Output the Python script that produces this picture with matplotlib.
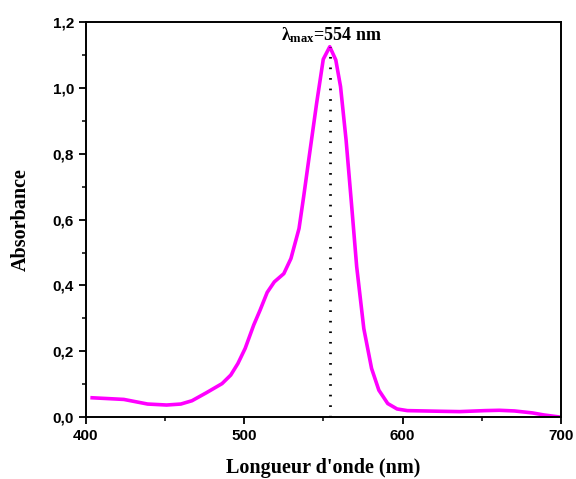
import matplotlib
matplotlib.use("Agg")
import matplotlib.pyplot as plt
from matplotlib.ticker import MultipleLocator, FuncFormatter
import numpy as np

plt.rcParams["mathtext.fontset"] = "custom"
plt.rcParams["mathtext.rm"] = "Liberation Serif:bold"
plt.rcParams["mathtext.it"] = "Liberation Serif:bold"
plt.rcParams["mathtext.bf"] = "Liberation Serif:bold"

wavelength = [404, 424, 439, 451, 460, 467, 476, 486, 491.5, 496, 500.6, 506, 510,
              514.5, 519, 525, 529.5, 534.6, 537.5, 541, 545.7, 549.9, 554, 557.8,
              560.8, 564.3, 567.7, 571, 575.5, 580.4, 585, 590.6, 596.5, 603, 624,
              636, 652, 661, 670.6, 682, 689, 700]
absorbance = [0.059, 0.054, 0.040, 0.037, 0.040, 0.050, 0.074, 0.102, 0.128, 0.163,
              0.209, 0.280, 0.325, 0.379, 0.411, 0.436, 0.482, 0.573, 0.669, 0.791,
              0.953, 1.087, 1.125, 1.085, 1.004, 0.842, 0.649, 0.457, 0.269, 0.148,
              0.082, 0.0415, 0.025, 0.020, 0.018, 0.017, 0.020, 0.021, 0.019, 0.013,
              0.007, 0.0]
lambda_max = 554
peak_abs = 1.125

fig = plt.figure(figsize=(5.76, 4.79), dpi=100)
ax = fig.add_axes([0.149, 0.129, 0.825, 0.825])
ax.plot(wavelength, absorbance, color="#FF00FF", lw=2.6, solid_joinstyle="round")
ax.plot([lambda_max, lambda_max], [0, peak_abs], color="black", lw=2.0,
        linestyle=(0, (0.6, 3.2)))
ax.text(lambda_max + 1, 1.16, r"$\mathrm{λ}_{\mathrm{max}}$=554 nm", ha="center", va="center",
        fontsize=13, fontweight="bold", family="Liberation Serif")

ax.set_xlim(400, 700)
ax.set_ylim(0, 1.2)
ax.xaxis.set_major_locator(MultipleLocator(100))
ax.xaxis.set_minor_locator(MultipleLocator(50))
ax.yaxis.set_major_locator(MultipleLocator(0.2))
ax.yaxis.set_minor_locator(MultipleLocator(0.1))
ax.yaxis.set_major_formatter(FuncFormatter(lambda v, p: f"{v:.1f}".replace(".", ",")))
ax.tick_params(which="major", direction="out", length=5, width=1.3, labelsize=11)
ax.tick_params(which="minor", direction="out", length=3, width=1.1)
for lab in ax.get_xticklabels() + ax.get_yticklabels():
    lab.set_fontweight("bold")
    lab.set_family("Liberation Sans")
for s in ax.spines.values():
    s.set_linewidth(1.4)

ax.set_xlabel("Longueur d'onde (nm)", fontsize=14.5, fontweight="bold",
              family="Liberation Serif", labelpad=11)
ax.set_ylabel("Absorbance", fontsize=14.5, fontweight="bold",
              family="Liberation Serif", labelpad=16)

fig.savefig("out.png", dpi=100)
